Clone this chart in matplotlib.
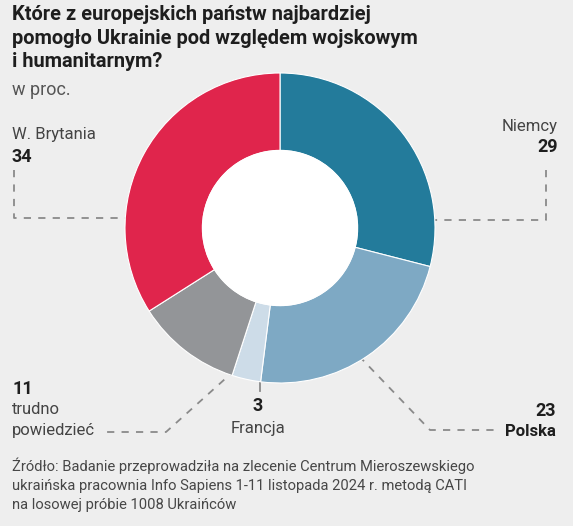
import numpy as np
import matplotlib.pyplot as plt

# dane (w proc.)
kraje = ['Niemcy', 'Polska', 'Francja', 'trudno powiedzieć', 'W. Brytania']
wartosci = [29, 23, 3, 11, 34]
kolory = ['#237b9b', '#7ea9c4', '#cddce8', '#939598', '#e0254c']

tytul = 'Które z europejskich państw najbardziej\npomogło Ukrainie pod względem wojskowym\ni humanitarnym?'
zrodlo = ('Źródło: Badanie przeprowadziła na zlecenie Centrum Mieroszewskiego\n'
          'ukraińska pracownia Info Sapiens 1-11 listopada 2024 r. metodą CATI\n'
          'na losowej próbie 1008 Ukraińców')

plt.rcParams['font.family'] = ['Roboto', 'DejaVu Sans']

W, H = 573, 526
fig = plt.figure(figsize=(W / 100, H / 100), dpi=100, facecolor='#eeeeee')

# warstwa w pikselach do tekstu i linii
ov = fig.add_axes([0, 0, 1, 1])
ov.set_xlim(0, W)
ov.set_ylim(H, 0)
ov.axis('off')
ov.set_facecolor('none')

cx, cy, r = 280, 228, 155
ax = fig.add_axes([(cx - r) / W, (H - cy - r) / H, 2 * r / W, 2 * r / H])
ax.set_facecolor('none')
wedges, _ = ax.pie(wartosci, colors=kolory, startangle=90, counterclock=False,
                   radius=1, wedgeprops=dict(width=0.5, edgecolor='white', linewidth=0.8))
ax.add_patch(plt.Circle((0, 0), 0.5, color='white', zorder=5))
ax.set_xlim(-1, 1)
ax.set_ylim(-1, 1)
ax.axis('off')

ov.text(12, 5, tytul, fontsize=14.4, fontweight='bold', color='#1e1e1e', va='top', linespacing=1.3)
ov.text(12, 81, 'w proc.', fontsize=13, color='#555555', va='top')

dash = dict(color='#8a8a8a', linestyle=(0, (4, 4)), linewidth=1.3)

# W. Brytania
ov.text(12, 134, 'W. Brytania', fontsize=12, color='#444444', va='center')
ov.text(12, 157, str(wartosci[4]), fontsize=13, fontweight='bold', color='#1e1e1e', va='center')
ov.plot([14, 14, 128], [170, 218, 218], **dash)

# Niemcy
ov.text(558, 126, 'Niemcy', fontsize=12, color='#444444', va='center', ha='right')
ov.text(558, 147, str(wartosci[0]), fontsize=13, fontweight='bold', color='#1e1e1e', va='center', ha='right')
ov.plot([546, 546, 435], [170, 220, 220], **dash)

# Polska
ov.text(556, 411, str(wartosci[1]), fontsize=13, fontweight='bold', color='#1e1e1e', va='center', ha='right')
ov.text(556, 431, 'Polska', fontsize=12, fontweight='bold', color='#1e1e1e', va='center', ha='right')
ov.plot([359, 430, 495], [356, 430, 430], **dash)

# Francja
ov.plot([260, 260], [381, 391], color='#8a8a8a', linewidth=1.3)
ov.text(258, 406, str(wartosci[2]), fontsize=13, fontweight='bold', color='#1e1e1e', va='center', ha='center')
ov.text(258, 429, 'Francja', fontsize=12, color='#444444', va='center', ha='center')

# trudno powiedzieć
ov.text(12, 389, str(wartosci[3]), fontsize=13, fontweight='bold', color='#1e1e1e', va='center')
ov.text(12, 410, 'trudno', fontsize=12, color='#444444', va='center')
ov.text(12, 431, 'powiedzieć', fontsize=12, color='#444444', va='center')
ov.plot([235, 166, 104], [370, 432, 432], **dash)

ov.text(12, 457, zrodlo, fontsize=10.6, color='#474747', va='top', linespacing=1.5)

fig.savefig('out.png', dpi=100, facecolor=fig.get_facecolor())
